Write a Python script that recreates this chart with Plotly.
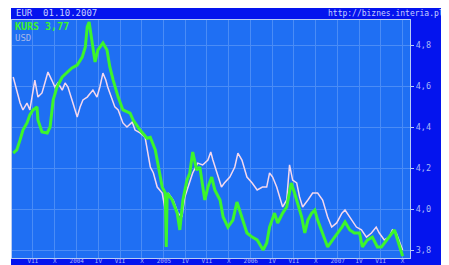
import plotly.graph_objects as go

# EUR (green) series
eur_dates = ["2003-04-09","2003-04-24","2003-05-08","2003-05-20","2003-06-06","2003-06-18","2003-07-01","2003-07-18","2003-07-22","2003-08-08","2003-08-30","2003-09-11","2003-09-24","2003-10-10","2003-11-01","2003-11-22","2003-12-12","2004-01-03","2004-01-24","2004-02-06","2004-02-14","2004-02-22","2004-03-05","2004-03-18","2004-03-30","2004-04-20","2004-05-07","2004-05-19","2004-06-02","2004-06-23","2004-07-13","2004-08-12","2004-08-25","2004-09-23","2004-10-22","2004-11-05","2004-11-26","2004-12-08","2004-12-25","2005-01-07","2005-01-11","2005-01-15","2005-02-05","2005-02-26","2005-03-09","2005-03-22","2005-04-08","2005-04-20","2005-05-02","2005-05-19","2005-06-01","2005-06-22","2005-07-05","2005-07-21","2005-08-03","2005-08-25","2005-09-07","2005-09-27","2005-10-18","2005-11-04","2005-11-25","2005-12-16","2006-01-07","2006-01-28","2006-02-22","2006-03-09","2006-03-21","2006-04-11","2006-04-24","2006-05-15","2006-06-01","2006-06-20","2006-07-04","2006-07-17","2006-08-03","2006-08-16","2006-08-29","2006-09-14","2006-09-27","2006-10-09","2006-10-30","2006-11-20","2006-12-11","2007-01-02","2007-01-19","2007-02-01","2007-02-21","2007-03-12","2007-04-03","2007-04-15","2007-05-06","2007-05-27","2007-06-17","2007-07-04","2007-07-25","2007-08-15","2007-08-28","2007-09-10","2007-09-24","2007-10-01"]
eur_values = [4.273,4.288,4.337,4.385,4.420,4.459,4.483,4.498,4.434,4.376,4.371,4.400,4.532,4.595,4.644,4.668,4.688,4.702,4.741,4.790,4.888,4.912,4.824,4.717,4.776,4.810,4.776,4.693,4.629,4.546,4.483,4.468,4.434,4.385,4.345,4.350,4.288,4.205,4.107,4.078,3.815,4.078,4.044,3.980,3.898,4.044,4.141,4.176,4.278,4.190,4.205,4.044,4.107,4.156,4.093,4.044,3.961,3.912,3.946,4.034,3.961,3.883,3.863,3.849,3.800,3.834,3.912,3.980,3.932,3.980,4.010,4.127,4.078,4.029,3.961,3.883,3.946,3.980,3.995,3.946,3.883,3.815,3.849,3.883,3.912,3.937,3.898,3.883,3.883,3.815,3.849,3.863,3.815,3.815,3.849,3.883,3.898,3.849,3.800,3.770]

# USD (white) series
usd_dates = ["2003-04-09","2003-04-25","2003-05-08","2003-05-20","2003-06-06","2003-06-18","2003-07-01","2003-07-09","2003-07-22","2003-08-08","2003-08-20","2003-09-02","2003-09-18","2003-10-01","2003-10-14","2003-11-01","2003-11-13","2003-11-25","2003-12-12","2003-12-24","2004-01-03","2004-01-15","2004-01-27","2004-02-14","2004-02-26","2004-03-09","2004-03-26","2004-04-07","2004-04-20","2004-05-02","2004-05-10","2004-05-28","2004-06-09","2004-06-23","2004-07-13","2004-07-30","2004-08-21","2004-09-02","2004-09-23","2004-10-14","2004-10-27","2004-11-05","2004-11-18","2004-12-04","2004-12-25","2005-01-07","2005-01-19","2005-02-09","2005-03-01","2005-03-18","2005-03-30","2005-04-12","2005-05-02","2005-05-23","2005-06-13","2005-07-05","2005-07-17","2005-07-26","2005-08-11","2005-08-31","2005-09-12","2005-10-05","2005-10-26","2005-11-08","2005-11-25","2005-12-16","2006-01-07","2006-01-28","2006-02-19","2006-03-09","2006-03-21","2006-04-03","2006-04-20","2006-05-02","2006-05-15","2006-06-01","2006-06-13","2006-06-26","2006-07-13","2006-07-25","2006-08-07","2006-08-29","2006-09-18","2006-10-09","2006-10-30","2006-11-20","2006-12-07","2006-12-28","2007-01-19","2007-02-01","2007-02-21","2007-03-21","2007-04-11","2007-05-02","2007-05-23","2007-06-12","2007-06-25","2007-07-16","2007-08-06","2007-08-19","2007-09-04","2007-09-26","2007-10-01"]
usd_values = [4.644,4.580,4.517,4.483,4.517,4.483,4.566,4.629,4.546,4.566,4.615,4.668,4.629,4.595,4.615,4.580,4.615,4.595,4.532,4.483,4.449,4.498,4.532,4.546,4.566,4.580,4.546,4.595,4.663,4.629,4.595,4.532,4.498,4.483,4.420,4.400,4.424,4.385,4.371,4.351,4.254,4.205,4.176,4.107,4.078,3.995,4.078,4.044,3.980,3.961,4.059,4.107,4.176,4.224,4.215,4.239,4.278,4.239,4.176,4.107,4.127,4.156,4.205,4.273,4.239,4.156,4.127,4.093,4.107,4.107,4.176,4.156,4.107,4.059,4.010,4.044,4.215,4.141,4.127,4.059,4.010,4.044,4.078,4.078,4.044,3.961,3.912,3.932,3.980,3.995,3.961,3.912,3.898,3.863,3.883,3.912,3.883,3.849,3.863,3.898,3.883,3.815,3.800]

x_tick_dates = ["2003-07-01","2003-10-01","2004-01-01","2004-04-01","2004-07-01","2004-10-01","2005-01-01","2005-04-01","2005-07-01","2005-10-01","2006-01-01","2006-04-01","2006-07-01","2006-10-01","2007-01-01","2007-04-01","2007-07-01","2007-10-01"]
x_tick_labels = ["VII","X","2004","IV","VII","X","2005","IV","VII","X","2006","IV","VII","X","2007","IV","VII","X"]
y_ticks = [3.8, 4.0, 4.2, 4.4, 4.6, 4.8]

OUTER = "#0414ee"
PLOT = "#1f6ff3"
GRID = "#4a8cf6"
FRAME = "#b8ccf4"
LABEL = "#a9b8f8"

fig = go.Figure()
fig.add_trace(go.Scatter(x=usd_dates, y=usd_values, mode="lines",
                         line=dict(color="#f4d8ee", width=1.5), showlegend=False))
fig.add_trace(go.Scatter(x=eur_dates, y=eur_values, mode="lines",
                         line=dict(color="#3cf52c", width=3), showlegend=False))

fig.update_layout(
    width=441, height=257,
    margin=dict(l=4, r=39, t=12, b=7),
    paper_bgcolor="white",
    plot_bgcolor="rgba(0,0,0,0)",
    separators=", ",
    font=dict(family="DejaVu Sans Mono", size=9, color=LABEL),
    shapes=[
        dict(type="rect", xref="paper", yref="paper", x0=-0.0025, x1=1.2, y0=-0.2, y1=1.2,
             fillcolor=OUTER, line=dict(width=0), layer="below"),
        dict(type="rect", xref="paper", yref="paper", x0=0, x1=1, y0=0, y1=1,
             fillcolor=PLOT, line=dict(width=0), layer="below"),
    ],
    annotations=[
        dict(text="EUR  01.10.2007", xref="paper", yref="paper", x=0.006, y=1.029,
             xanchor="left", yanchor="middle", showarrow=False,
             font=dict(size=9, color="#c8d0ff", family="DejaVu Sans Mono")),
        dict(text="http://biznes.interia.pl", xref="paper", yref="paper", x=1.09, y=1.029,
             xanchor="right", yanchor="middle", showarrow=False,
             font=dict(size=8, color="#c8d0ff", family="DejaVu Sans Mono")),
        dict(text="<b>KURS 3,77</b>", xref="paper", yref="paper", x=0.002, y=0.971,
             xanchor="left", yanchor="middle", showarrow=False,
             font=dict(size=10, color="#3cf52c", family="DejaVu Sans Mono")),
        dict(text="USD", xref="paper", yref="paper", x=0.002, y=0.924,
             xanchor="left", yanchor="middle", showarrow=False,
             font=dict(size=9, color="#a8b8e8", family="DejaVu Sans Mono")),
    ],
)

fig.update_xaxes(
    automargin=False,
    range=["2003-04-04", "2007-11-01"],
    tickvals=x_tick_dates, ticktext=x_tick_labels,
    tickfont=dict(size=6, color=LABEL),
    ticklabelstandoff=-3,
    showgrid=True, gridcolor=GRID, gridwidth=1,
    showline=True, linecolor=FRAME, linewidth=1, mirror=True,
    ticks="outside", ticklen=0, tickcolor=FRAME,
    zeroline=False, fixedrange=True,
)
fig.update_yaxes(
    automargin=False,
    range=[3.761, 4.922], side="right",
    tickvals=y_ticks, tickformat=".1f",
    tickfont=dict(size=8.5, color=LABEL),
    showgrid=True, gridcolor=GRID, gridwidth=1,
    showline=True, linecolor=FRAME, linewidth=1, mirror=True,
    ticks="outside", ticklen=3, tickcolor=FRAME,
    zeroline=False, fixedrange=True,
)

fig.write_html("out.html", config={"displayModeBar": False})
